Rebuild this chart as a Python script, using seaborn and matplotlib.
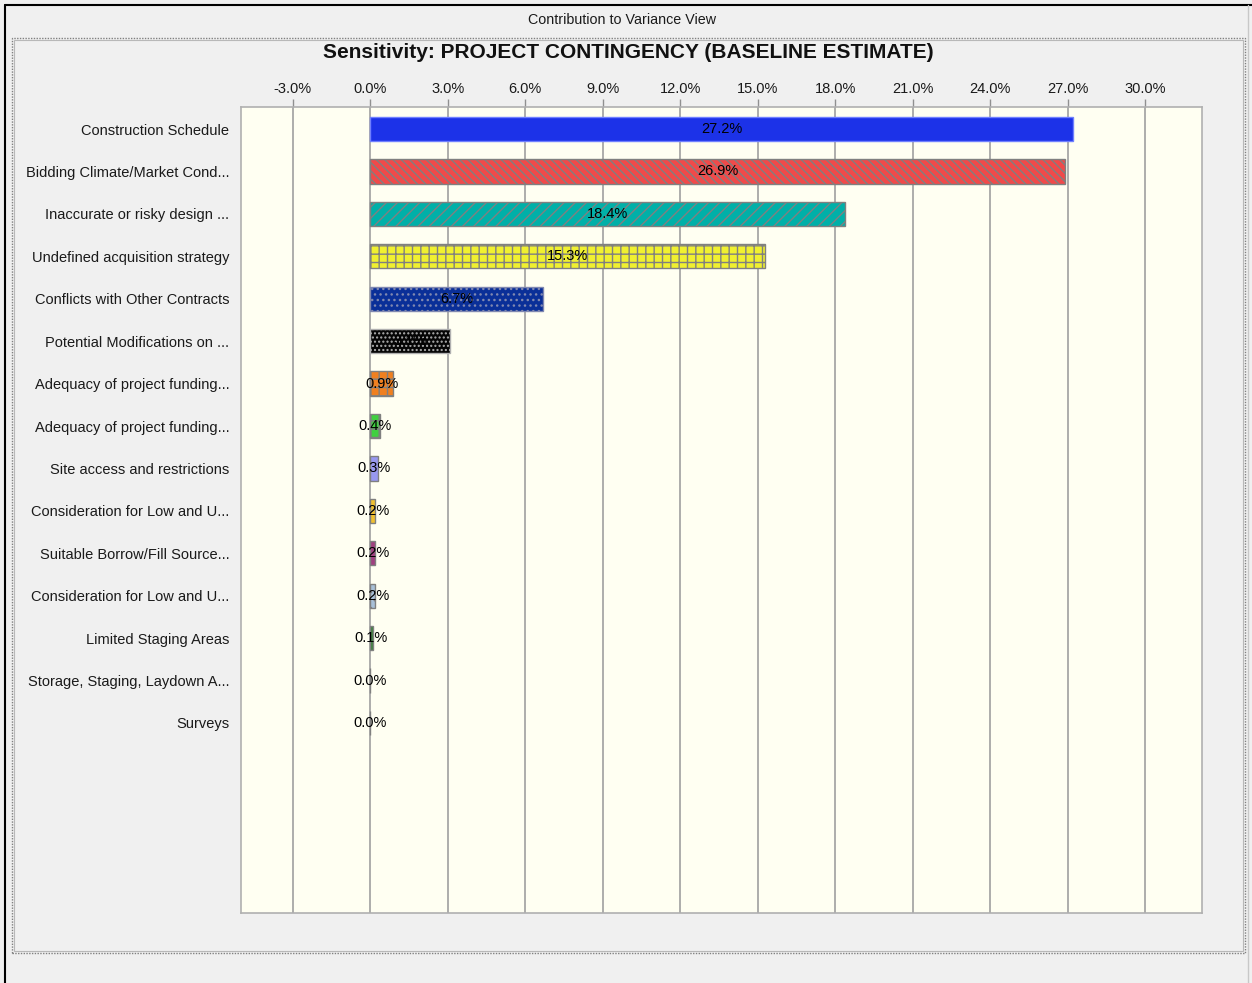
import matplotlib
matplotlib.use("Agg")
import matplotlib.pyplot as plt
from matplotlib.patches import Rectangle
from matplotlib.lines import Line2D
import seaborn as sns
import pandas as pd

# Risk factors, top to bottom, as shown on the axis
factors = [
    "Construction Schedule",
    "Bidding Climate/Market Cond...",
    "Inaccurate or risky design ...",
    "Undefined acquisition strategy",
    "Conflicts with Other Contracts",
    "Potential Modifications on ...",
    "Adequacy of project funding...",
    "Adequacy of project funding...",
    "Site access and restrictions",
    "Consideration for Low and U...",
    "Suitable Borrow/Fill Source...",
    "Consideration for Low and U...",
    "Limited Staging Areas",
    "Storage, Staging, Laydown A...",
    "Surveys",
]
# Contribution to variance, percent
contribution = [27.2, 26.9, 18.4, 15.3, 6.7, 3.1, 0.9, 0.4, 0.3, 0.2, 0.2, 0.2, 0.1, 0.0, 0.0]

fills = ["#1c32e8", "#f04a4a", "#00b0a8", "#f0f030", "#0a2f98", "#050505",
         "#f08020", "#40d040", "#9898f0", "#f0c030", "#a04080", "#a8c0d8",
         "#408040", "#808080", "#808080"]
hatches = [None, "\\\\\\\\", "///", "++", "...", "....",
           "++", "++", None, "//", None, "..", None, None, None]
edges = ["#7080ff", "#808080", "#808080", "#808080", "#8088b0", "#b0b0b0",
         "#808080", "#808080", "#808080", "#808080", "#808080", "#808080",
         "#808080", "#808080", "#808080"]

xticks = [-3, 0, 3, 6, 9, 12, 15, 18, 21, 24, 27, 30]

keys = [f"f{i}" for i in range(len(factors))]
df = pd.DataFrame({"key": keys, "value": contribution})

W, H = 1252, 983
sns.set_theme(style="white")
plt.rcParams["font.family"] = ["Liberation Sans", "DejaVu Sans"]
plt.rcParams["hatch.linewidth"] = 1.0

fig = plt.figure(figsize=(W / 100, H / 100), dpi=100, facecolor="#f0f0f0")
ax = fig.add_axes([241 / W, 1 - 913 / H, 961 / W, 806 / H])
ax.set_facecolor("#fffff2")

sns.barplot(data=df, y="key", x="value", hue="key", order=keys, hue_order=keys,
            palette=dict(zip(keys, fills)), dodge=False, width=0.57,
            orient="h", legend=False, ax=ax, linewidth=1.0, saturation=1)

for cont, h, ec, v in zip(ax.containers, hatches, edges, contribution):
    for bar in cont:
        bar.set_edgecolor(ec)
        if h:
            bar.set_hatch(h)
    ax.bar_label(cont, labels=[f"{v:.1f}%"], label_type="center",
                 fontsize=10.5, color="black")

ax.set_xlim(-5.0, 32.2)
ax.set_ylim(18.48, -0.52)
ax.set_xticks(xticks)
ax.set_xticklabels([f"{t:.1f}%" for t in xticks])
ax.xaxis.tick_top()
ax.tick_params(axis="x", top=True, length=6, width=1, color="#909090",
               labelsize=10.5, pad=2, labelcolor="#1a1a1a")
ax.set_yticks(range(len(factors)))
ax.set_yticklabels(factors)
ax.tick_params(axis="y", left=False, length=0, pad=8.5, labelsize=10.5,
               labelcolor="#1a1a1a")
ax.set_xlabel("")
ax.set_ylabel("")
ax.grid(axis="x", color="#a0a0a0", linewidth=1.2)
ax.grid(axis="y", visible=False)
ax.set_axisbelow(True)
for s in ax.spines.values():
    s.set_color("#b0b0b0")
    s.set_linewidth(1.2)

def px(x, y):
    return x / W, 1 - y / H

# window border
fig.add_artist(Line2D([5 / W, 5 / W], [0, 1 - 5 / H], color="black", lw=1.5,
                      transform=fig.transFigure))
fig.add_artist(Line2D([5 / W, 1], [1 - 5 / H, 1 - 5 / H], color="black", lw=1.5,
                      transform=fig.transFigure))
fig.add_artist(Line2D([1248 / W, 1248 / W], [0, 1 - 5 / H], color="#c8c8c8", lw=1,
                      transform=fig.transFigure))

# inner panel frame
x0, y0 = px(12, 953)
fig.add_artist(Rectangle((x0, y0), (1245 - 12) / W, (953 - 38) / H, fill=False,
                         ec="#808080", lw=1.0, ls=(0, (1, 1)),
                         transform=fig.transFigure))
x1, y1 = px(14, 951)
fig.add_artist(Rectangle((x1, y1), (1243 - 14) / W, (951 - 40) / H, fill=False,
                         ec="#b8b8b8", lw=0.8, transform=fig.transFigure))

fig.text(622 / W, 1 - 20 / H, "Contribution to Variance View", ha="center",
         va="center", fontsize=10.3, color="#1a1a1a")
fig.text(628 / W, 1 - 53 / H,
         "Sensitivity: PROJECT CONTINGENCY (BASELINE ESTIMATE)",
         ha="center", va="center", fontsize=15, fontweight="bold", color="#111111")

fig.savefig("out.png", dpi=100, facecolor=fig.get_facecolor())
